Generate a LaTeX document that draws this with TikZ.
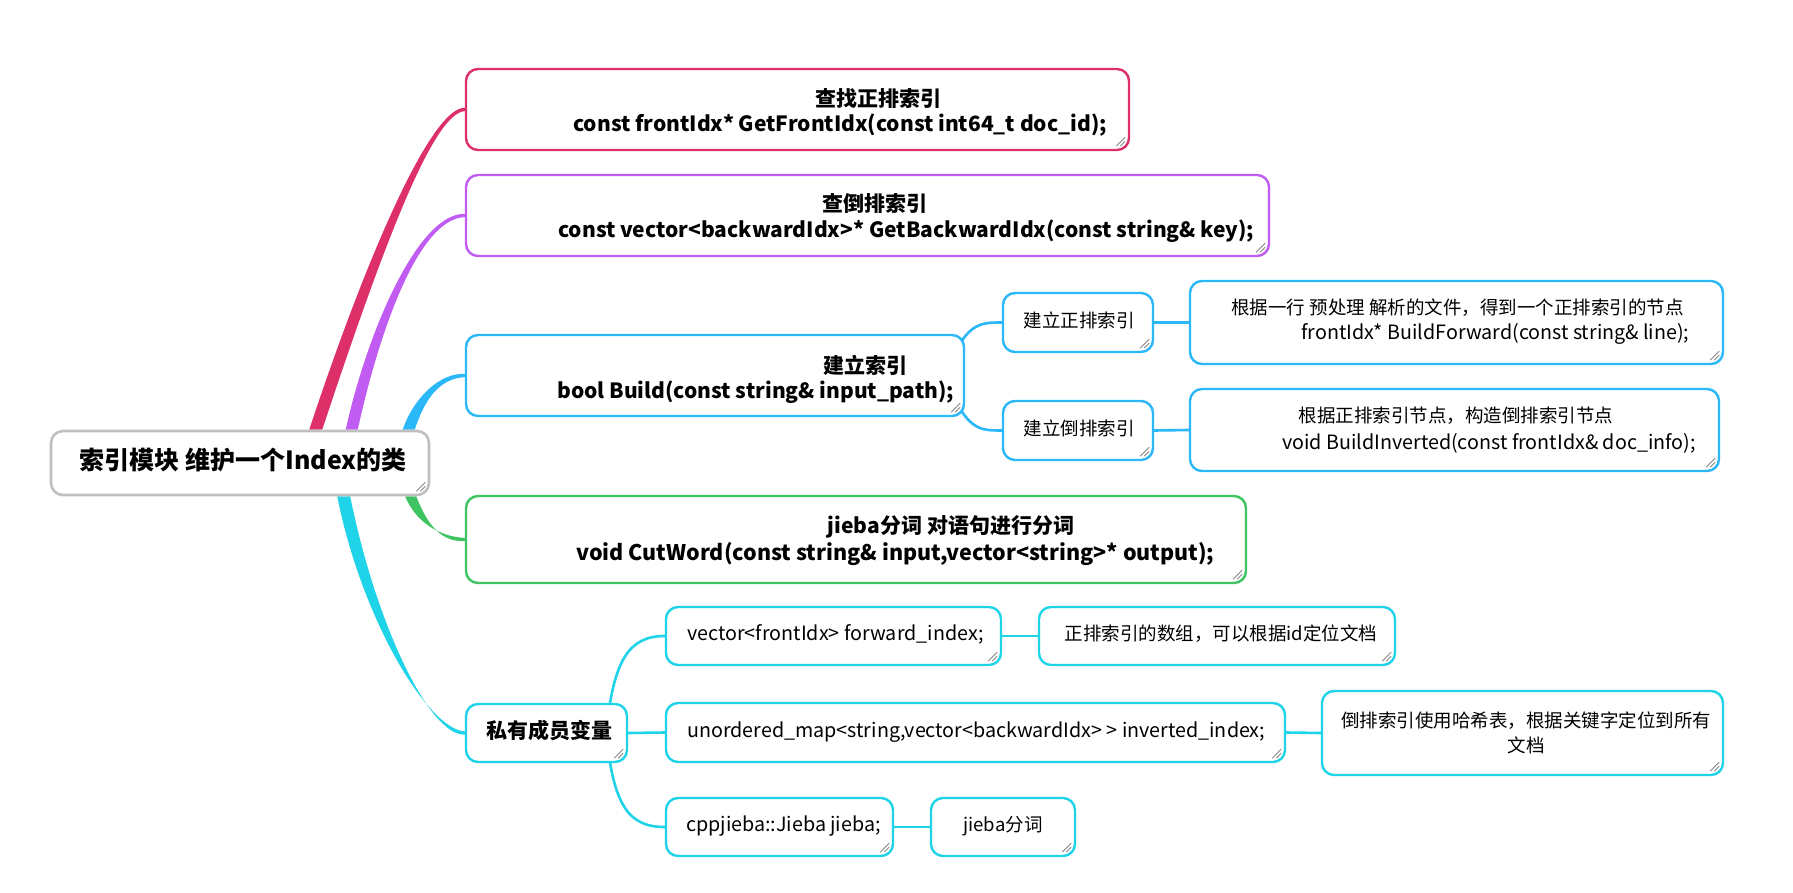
\documentclass[tikz,border=0pt]{standalone}
\usepackage{fontspec}
\setmainfont{Noto Sans CJK SC}
\usetikzlibrary{calc,backgrounds}
\pgfdeclarelayer{bottom}
\pgfsetlayers{bottom,background,main}
\definecolor{cpink}{HTML}{DE3068}
\definecolor{cpurple}{HTML}{C05CF2}
\definecolor{cblue}{HTML}{2AB8F8}
\definecolor{cgreen}{HTML}{3FC462}
\definecolor{ccyan}{HTML}{1FD4E8}
\definecolor{cgray}{HTML}{BFBFBF}
\newcommand\branchfill[6]{%
  \fill[#1] ($(#2)+(-#6,0)$) .. controls ($(#2)+#4+(-#6,0)$) and ($(#3)+#5+(0,-0.5*#6)$) .. ($(#3)+(0,-1.6)$)
    -- ($(#3)+(0,1.6)$) .. controls ($(#3)+#5+(0,0.5*#6)$) and ($(#2)+#4+(#6,0)$) .. ($(#2)+(#6,0)$) -- cycle;}
\newcommand\gripmark[1]{%
  \draw[gripline] ($(#1.south east)+(-14,-5)$) -- ($(#1.south east)+(-5,-14)$);
  \draw[gripline] ($(#1.south east)+(-10,-5)$) -- ($(#1.south east)+(-5,-10)$);}
\begin{document}
\begin{tikzpicture}[x=1pt,y=-1pt,
  box/.style={draw, line width=2.4pt, rounded corners=12pt, fill=white, inner sep=0pt},
  txt/.style={inner sep=0pt, text height=13pt, text depth=4pt, font=\fontsize{18.5}{25}\selectfont},
  ltxt/.style={inner sep=0pt, text height=13pt, text depth=4pt, font=\fontsize{19.7}{25}\selectfont},
  btxt/.style={inner sep=0pt, text height=15pt, text depth=5pt, font=\fontsize{21}{24}\selectfont\bfseries},
  rtxt/.style={inner sep=0pt, text height=18pt, text depth=6pt, font=\fontsize{25}{28}\selectfont\bfseries},
  sub/.style={line width=2.6pt},
  gripline/.style={draw=black!55, line width=0.7pt}]
\begin{pgfonlayer}{bottom}
\fill[white] (0,0) rectangle (1793,893);
\end{pgfonlayer}
\useasboundingbox (0,0) rectangle (1793,893);

% root
\node[box, draw=cgray, line width=2.6pt, minimum width=378pt, minimum height=64pt] (root) at (240,463) {};
\node[rtxt] (roott) at (243,463) {索引模块 维护一个Index的类};

% pink
\node[box, draw=cpink, minimum width=663pt, minimum height=81pt] (b1) at (797.5,109.5) {};
\node[btxt] (b1a) at (878,102) {查找正排索引};
\node[btxt, anchor=west] (b1b) at (573,127) {const frontIdx* GetFrontIdx(const int64\_t doc\_id);};

% purple
\node[box, draw=cpurple, minimum width=803pt, minimum height=81pt] (b2) at (867.5,215.5) {};
\node[btxt] (b2a) at (875,207) {查倒排索引};
\node[btxt, anchor=west] (b2b) at (558,233) {const vector<backwardIdx>* GetBackwardIdx(const string\& key);};

% blue
\node[box, draw=cblue, minimum width=498pt, minimum height=81pt] (b3) at (715,375.5) {};
\node[btxt] (b3a) at (865,368) {建立索引};
\node[btxt, anchor=west] (b3b) at (557,393) {bool Build(const string\& input\_path);};

\node[box, draw=cblue, minimum width=150pt, minimum height=59pt] (s1) at (1078,322.5) {};
\node[txt] (s1t) at (1079,323) {建立正排索引};
\node[box, draw=cblue, minimum width=150pt, minimum height=59pt] (s2) at (1078,430.5) {};
\node[txt] (s2t) at (1079,431) {建立倒排索引};

\node[box, draw=cblue, minimum width=533pt, minimum height=83pt] (r1) at (1456.5,322.5) {};
\node[txt] (r1a) at (1457.5,310) {根据一行 预处理 解析的文件，得到一个正排索引的节点};
\node[ltxt, anchor=west] (r1b) at (1301,335) {frontIdx* BuildForward(const string\& line);};
\node[box, draw=cblue, minimum width=529pt, minimum height=82pt] (r2) at (1454.5,430) {};
\node[txt] (r2a) at (1456,418) {根据正排索引节点，构造倒排索引节点};
\node[ltxt, anchor=west] (r2b) at (1282,445) {void BuildInverted(const frontIdx\& doc\_info);};

% green
\node[box, draw=cgreen, minimum width=780pt, minimum height=87pt] (b4) at (856,539.5) {};
\node[btxt] (b4a) at (951,528) {jieba分词 对语句进行分词};
\node[btxt, anchor=west, font=\fontsize{21.5}{24}\selectfont\bfseries] (b4b) at (576,555) {void CutWord(const string\& input,vector<string>* output);};

% cyan
\node[box, draw=ccyan, minimum width=161pt, minimum height=58pt] (b5) at (546.5,733) {};
\node[btxt] (b5t) at (549,733) {私有成员变量};

\node[box, draw=ccyan, minimum width=335pt, minimum height=58pt] (c1) at (833.5,636) {};
\node[ltxt, anchor=west] (c1t) at (687,636) {vector<frontIdx> forward\_index;};
\node[box, draw=ccyan, minimum width=356pt, minimum height=58pt] (c1d) at (1217,636) {};
\node[txt] (c1dt) at (1221,636) {正排索引的数组，可以根据id定位文档};

\node[box, draw=ccyan, minimum width=619pt, minimum height=59pt] (c2) at (975.5,732.5) {};
\node[ltxt, anchor=west] (c2t) at (687,732.5) {unordered\_map<string,vector<backwardIdx> > inverted\_index;};
\node[box, draw=ccyan, minimum width=401pt, minimum height=84pt] (c2d) at (1522.5,733) {};
\node[txt, align=center, text height=, text depth=] (c2dt) at (1526,732.5) {倒排索引使用哈希表，根据关键字定位到所有\\文档};

\node[box, draw=ccyan, minimum width=227pt, minimum height=58pt] (c3) at (779.5,827) {};
\node[ltxt, anchor=west] (c3t) at (686,827) {cppjieba::Jieba jieba;};
\node[box, draw=ccyan, minimum width=144pt, minimum height=58pt] (c3d) at (1003,827) {};
\node[txt] (c3dt) at (1003,827) {jieba分词};

\foreach \n in {root,b1,b2,b3,s1,s2,r1,r2,b4,b5,c1,c1d,c2,c2d,c3,c3d} {\gripmark{\n}}

\begin{scope}[on background layer]
  \coordinate (pS) at ($(root.north west)+(266,0)$);
  \coordinate (uS) at ($(root.north west)+(302,0)$);
  \coordinate (bS) at ($(root.north west)+(359,0)$);
  \coordinate (gS) at ($(root.south west)+(361,0)$);
  \coordinate (cS) at ($(root.south west)+(294,0)$);
  \branchfill{cpink}{pS}{b1.west}{(63,-190)}{(-31,0)}{6.5}
  \branchfill{cpurple}{uS}{b2.west}{(22,-100)}{(-46,0)}{6}
  \branchfill{cblue}{bS}{b3.west}{(10,-30)}{(-26,0)}{6}
  \branchfill{cgreen}{gS}{b4.west}{(10,25)}{(-26,0)}{5.5}
  \branchfill{ccyan}{cS}{b5.west}{(25,125)}{(-36,0)}{6.5}

  \draw[sub, cblue] ($(b3.east)+(-20,0)$) .. controls ($(b3.east)+(0,-53)$) and ($(s1.west)+(-23,0)$) .. (s1.west);
  \draw[sub, cblue] ($(b3.east)+(-20,0)$) .. controls ($(b3.east)+(0,55)$) and ($(s2.west)+(-23,0)$) .. (s2.west);
  \draw[sub, cblue] (s1.east) -- (r1.west);
  \draw[sub, cblue] (s2.east) -- (r2.west);

  \draw[sub, ccyan] ($(b5.east)+(-22,0)$) .. controls ($(b5.east)+(-15,-73)$) and ($(c1.west)+(-36,0)$) .. (c1.west);
  \draw[sub, ccyan] ($(b5.east)+(-22,0)$) .. controls ($(b5.east)+(-15,73)$) and ($(c3.west)+(-36,0)$) .. (c3.west);
  \draw[sub, ccyan] (b5.east) -- (c2.west);
  \draw[sub, ccyan] (c1.east) -- (c1d.west);
  \draw[sub, ccyan] (c2.east) -- (c2d.west);
  \draw[sub, ccyan] (c3.east) -- (c3d.west);
\end{scope}
\end{tikzpicture}
\end{document}
